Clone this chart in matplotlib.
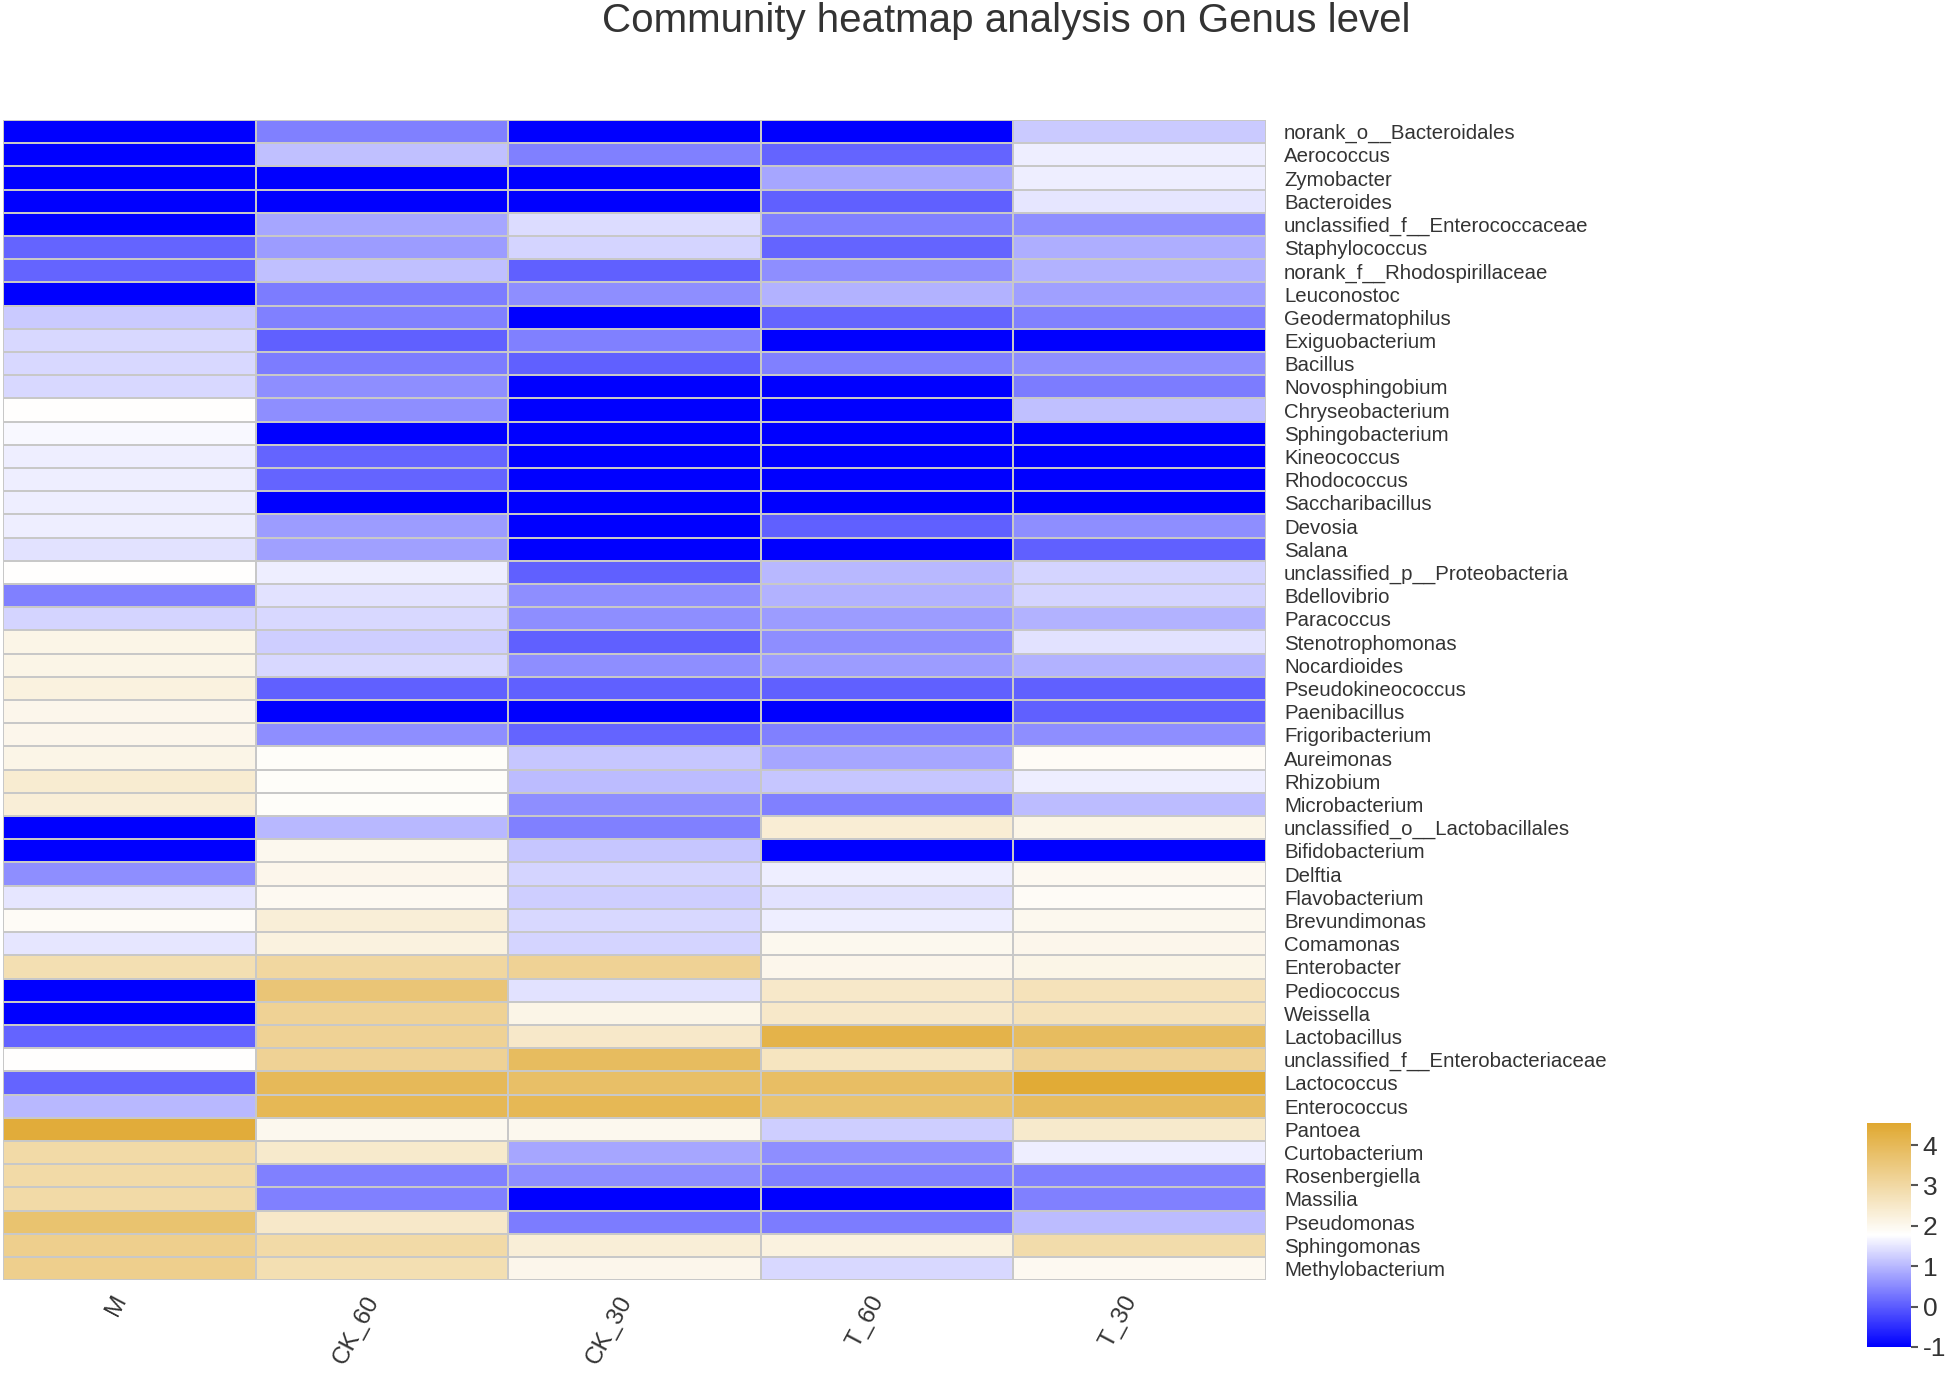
import numpy as np
import matplotlib
matplotlib.use("Agg")
import matplotlib.pyplot as plt
from matplotlib.colors import LinearSegmentedColormap
from matplotlib.transforms import ScaledTranslation

plt.rcParams['font.family'] = ['Liberation Sans', 'DejaVu Sans']
plt.rcParams['axes.unicode_minus'] = False

samples = ["M", "CK_60", "CK_30", "T_60", "T_30"]

genera = [
    "norank_o__Bacteroidales", "Aerococcus", "Zymobacter", "Bacteroides",
    "unclassified_f__Enterococcaceae", "Staphylococcus", "norank_f__Rhodospirillaceae",
    "Leuconostoc", "Geodermatophilus", "Exiguobacterium", "Bacillus", "Novosphingobium",
    "Chryseobacterium", "Sphingobacterium", "Kineococcus", "Rhodococcus",
    "Saccharibacillus", "Devosia", "Salana", "unclassified_p__Proteobacteria",
    "Bdellovibrio", "Paracoccus", "Stenotrophomonas", "Nocardioides",
    "Pseudokineococcus", "Paenibacillus", "Frigoribacterium", "Aureimonas",
    "Rhizobium", "Microbacterium", "unclassified_o__Lactobacillales", "Bifidobacterium",
    "Delftia", "Flavobacterium", "Brevundimonas", "Comamonas", "Enterobacter",
    "Pediococcus", "Weissella", "Lactobacillus", "unclassified_f__Enterobacteriaceae",
    "Lactococcus", "Enterococcus", "Pantoea", "Curtobacterium", "Rosenbergiella",
    "Massilia", "Pseudomonas", "Sphingomonas", "Methylobacterium",
]

val_M = [-1, -1, -1, -1, -1, 0.1, 0.1, -1, 1.2, 1.35, 1.35, 1.35, 1.8, 1.7, 1.6, 1.6,
         1.6, 1.58, 1.45, 1.8, 0.4, 1.3, 2.1, 2.1, 2.2, 2.05, 2.05, 2.1, 2.4, 2.3,
         -1, -1, 0.55, 1.5, 1.9, 1.5, 2.8, -1, -1, 0.1, 1.8, 0.1, 1.0, 4.4, 2.95,
         2.95, 2.95, 3.7, 3.3, 3.3]
val_CK60 = [0.4, 1.1, -1, -1, 0.8, 0.7, 1.1, 0.35, 0.4, 0.05, 0.35, 0.55, 0.55, -1,
            0.1, 0.1, -1, 0.7, 0.75, 1.58, 1.45, 1.35, 1.25, 1.35, 0.05, -1, 0.55,
            1.85, 1.85, 1.85, 1.0, 2.0, 2.05, 1.95, 2.3, 2.2, 3.05, 3.6, 3.2, 3.2,
            3.2, 4.0, 4.05, 2.0, 2.45, 0.4, 0.4, 2.5, 2.95, 2.8]
val_CK30 = [-1, 0.4, -1, -1, 1.4, 1.3, 0.05, 0.55, -1, 0.4, 0.05, -1, -1, -1, -1,
            -1, -1, -1, -1, 0.05, 0.55, 0.55, 0.05, 0.55, 0.05, -1, 0.1, 1.15,
            1.05, 0.55, 0.4, 1.15, 1.3, 1.25, 1.35, 1.3, 3.2, 1.45, 2.1, 2.5, 3.9,
            3.8, 4.05, 2.0, 0.8, 0.55, -1, 0.35, 2.3, 2.05]
val_T60 = [-1, 0.1, 0.8, 0.05, 0.4, 0.1, 0.55, 0.95, 0.1, -1, 0.4, -1, -1, -1, -1,
           -1, -1, 0.05, -1, 1.0, 0.95, 0.7, 0.55, 0.7, 0.05, -1, 0.4, 0.8, 1.15,
           0.4, 2.35, -1, 1.6, 1.45, 1.6, 2.0, 2.05, 2.5, 2.5, 4.2, 2.6, 3.85, 3.7,
           1.25, 0.55, 0.4, -1, 0.35, 2.2, 1.35]
val_T30 = [1.2, 1.6, 1.6, 1.5, 0.55, 0.9, 0.95, 0.75, 0.4, -1, 0.55, 0.35, 1.1, -1,
           -1, -1, -1, 0.55, 0.05, 1.3, 1.3, 0.95, 1.45, 0.95, 0.05, 0.05, 0.55,
           1.9, 1.6, 1.05, 2.1, -1, 1.95, 1.9, 2.0, 2.05, 2.1, 2.7, 2.7, 3.9, 3.2,
           4.45, 3.9, 2.45, 1.6, 0.4, 0.4, 1.05, 2.9, 1.95]

data = np.array([val_M, val_CK60, val_CK30, val_T60, val_T30]).T

vmin, vmax = -1.0, 4.55
cmap = LinearSegmentedColormap.from_list("bwg", ["#0000FF", "#FFFFFF", "#E0A830"])

fig = plt.figure(figsize=(19.46, 13.75), dpi=100)
ax = fig.add_axes([0.0015, 0.069, 0.649, 0.8437])
mesh = ax.pcolormesh(np.arange(len(samples) + 1), np.arange(len(genera) + 1), data,
                     cmap=cmap, vmin=vmin, vmax=vmax,
                     edgecolors="#C8C8C8", linewidth=1.4)
ax.set_xlim(0, len(samples))
ax.set_ylim(len(genera), 0)
for s in ax.spines.values():
    s.set_visible(False)

ax.yaxis.tick_right()
ax.set_yticks(np.arange(len(genera)) + 0.5)
ax.set_yticklabels(genera, fontsize=14.7, color="#333333")
ax.tick_params(axis="y", length=0, pad=13)

ax.set_xticks(np.arange(len(samples)) + 0.5)
ax.set_xticklabels(samples, fontsize=17.5, color="#333333", rotation=62,
                   ha="right", va="center", rotation_mode="anchor")
ax.tick_params(axis="x", length=0, pad=12)
shift = ScaledTranslation(-0.08, 0, fig.dpi_scale_trans)
for lbl in ax.get_xticklabels():
    lbl.set_transform(lbl.get_transform() + shift)

fig.text(0.517, 0.985, "Community heatmap analysis on Genus level",
         ha="center", va="center", fontsize=29, color="#333333")

cax = fig.add_axes([0.9594, 0.0204, 0.0226, 0.163])
cb = fig.colorbar(mesh, cax=cax, ticks=[-1, 0, 1, 2, 3, 4])
cb.outline.set_visible(False)
cax.tick_params(labelsize=19, color="#555555", length=5, width=1.5, labelcolor="#333333")

fig.savefig("out.png", dpi=100)
